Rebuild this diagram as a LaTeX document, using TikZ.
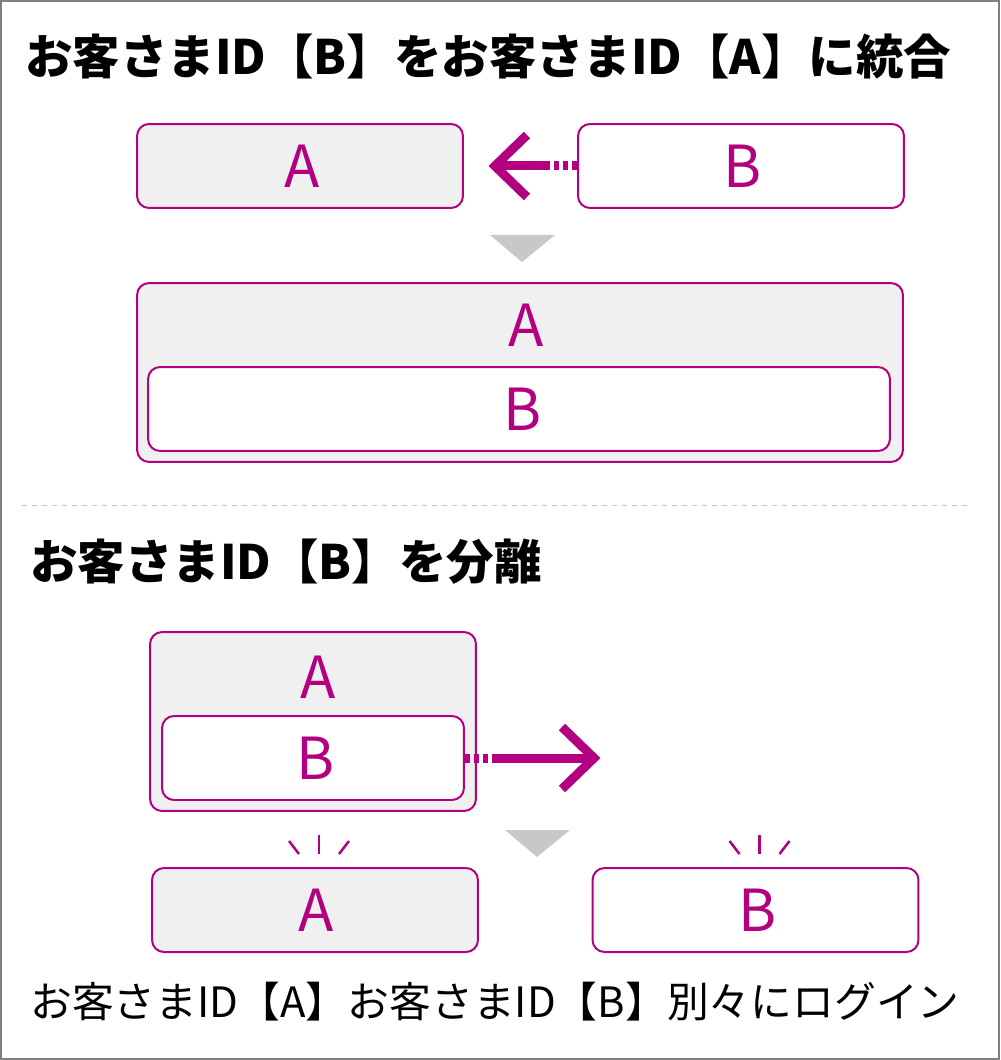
\documentclass[tikz,border=0pt]{standalone}
\usepackage{fontspec}
\setmainfont{Noto Sans CJK JP}
\usetikzlibrary{calc}
\definecolor{idmagenta}{RGB}{178,0,128}
\definecolor{boxgray}{RGB}{240,240,240}
\definecolor{markgray}{RGB}{200,200,200}
\tikzset{
  idbox/.style={draw=idmagenta, line width=0.04cm, rounded corners=0.24cm,
    minimum width=6.52cm, minimum height=1.68cm, inner sep=0pt,
    text=idmagenta, font=\fontsize{33pt}{36pt}\selectfont},
  graybox/.style={idbox, fill=boxgray},
  whitebox/.style={idbox, fill=white},
  letter/.style={text=idmagenta, inner sep=0pt, font=\fontsize{33pt}{36pt}\selectfont},
  title/.style={anchor=west, inner sep=0pt, font=\fontsize{27pt}{30pt}\selectfont\bfseries},
  caption/.style={anchor=west, inner sep=0pt, font=\fontsize{23.8pt}{28pt}\selectfont},
  arrowline/.style={draw=idmagenta, line width=0.18cm},
  dotline/.style={arrowline, dash pattern=on 0.1cm off 0.08cm},
  chevron/.style={arrowline, line join=miter},
  spark/.style={draw=idmagenta, line width=0.05cm},
  downmark/.style={fill=markgray}
}
\begin{document}
\begin{tikzpicture}[x=0.02cm, y=-0.02cm]
  \useasboundingbox (0,0) rectangle (1000,1060);
  \fill[white] (0,0) rectangle (1000,1060);
  \draw[gray, line width=0.04cm] (1,1) rectangle (999,1059);

  % 統合
  \node[title] (t1) at (25,57) {お客さまID【B】をお客さまID【A】に統合};
  \node[graybox] (a1) at (300,166) {\hspace{0.08cm}A};
  \node[whitebox] (b1) at (741,166) {\hspace{0.08cm}B};
  \coordinate (tip1) at ($(a1.east)+(31,0)$);
  \draw[dotline] (b1.west) -- ++(-29,0) coordinate (m1);
  \draw[arrowline] (m1) -- (tip1);
  \draw[chevron] ($(tip1)+(32,-31)$) -- (tip1) -- ($(tip1)+(32,31)$);
  \fill[downmark] (490,235) -- (555,235) -- (522,262) -- cycle;
  \node[graybox, minimum width=15.32cm, minimum height=3.58cm] (ab) at (520,372.5) {};
  \node[letter] (ab-a) at (526,325) {A};
  \node[whitebox, minimum width=14.84cm] (ab-b) at (519,409) {\hspace{0.16cm}B};

  % 区切り線
  \draw[markgray, line width=0.02cm, dash pattern=on 0.1cm off 0.1cm] (22,505) -- (970,505);

  % 分離
  \node[title] (t2) at (30,562) {お客さまID【B】を分離};
  \node[graybox, minimum height=3.58cm] (ab2) at (313,721.5) {};
  \node[letter] (ab2-a) at (318,677) {A};
  \node[whitebox, minimum width=6.04cm] (b2) at (313,758) {\hspace{0.1cm}B};
  \coordinate (tip2) at ($(b2.east)+(129,0)$);
  \draw[dotline] (b2.east) -- ++(28,0) coordinate (m2);
  \draw[arrowline] (m2) -- (tip2);
  \draw[chevron] ($(tip2)+(-32,-31)$) -- (tip2) -- ($(tip2)+(-32,31)$);
  \fill[downmark] (505,830) -- (570,830) -- (537,857) -- cycle;
  \node[graybox] (a3) at (315,910) {\hspace{0.06cm}A};
  \node[whitebox] (b3) at (755.5,910) {\hspace{0.1cm}B};
  % きらきら
  \foreach \n in {a3,b3}{
    \draw[spark] ($(\n.north)+(4,-32)$) -- ($(\n.north)+(4,-13)$);
    \draw[spark] ($(\n.north)+(-26,-26)$) -- ($(\n.north)+(-16,-13)$);
    \draw[spark] ($(\n.north)+(34,-26)$) -- ($(\n.north)+(24,-13)$);
  }
  \node[caption] (cap) at (30,1002) {お客さまID【A】お客さまID【B】別々にログイン};
\end{tikzpicture}
\end{document}
